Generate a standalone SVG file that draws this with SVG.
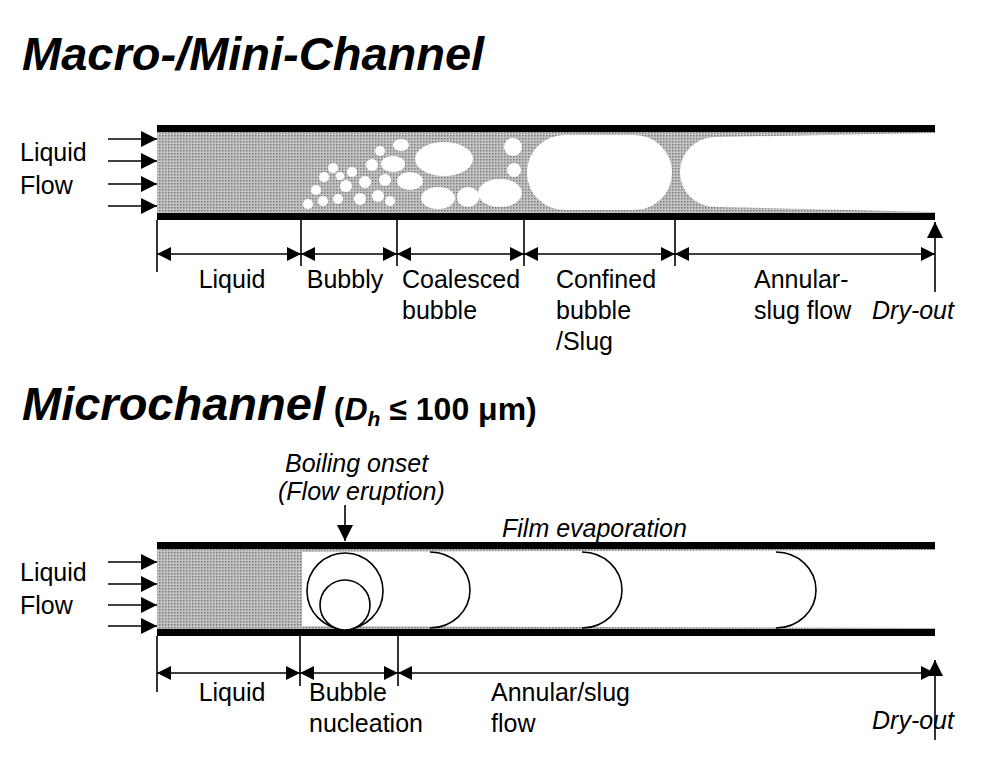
<svg xmlns="http://www.w3.org/2000/svg" width="994" height="757" viewBox="0 0 994 757">
<defs>
<pattern id="dots" width="3" height="3" patternUnits="userSpaceOnUse"><rect width="3" height="3" fill="#c4c4c4"/><rect width="1.5" height="1.5" fill="#7a7a7a"/></pattern>
<marker id="ah" viewBox="0 0 10 10" refX="10" refY="5" markerWidth="16" markerHeight="14" markerUnits="userSpaceOnUse" orient="auto-start-reverse"><path d="M0,0 L10,5 L0,10 z" fill="#000"/></marker>
<marker id="big" viewBox="0 0 10 10" refX="10" refY="5" markerWidth="18" markerHeight="16" markerUnits="userSpaceOnUse" orient="auto"><path d="M0,0 L10,5 L0,10 z" fill="#000"/></marker>
</defs>
<style>
.t{font-family:"Liberation Sans",Arial,sans-serif;font-size:25px;fill:#000}
.i{font-style:italic}
.h{font-family:"Liberation Sans",Arial,sans-serif;font-weight:bold;font-style:italic;font-size:47px}
.wall{fill:#000}
.ln{stroke:#000;stroke-width:1.6;fill:none}
.b{fill:#fff}
.s{fill:#fff;stroke:#000;stroke-width:1.6}
</style>
<rect width="994" height="757" fill="#fff"/>
<text class="h" x="22" y="70">Macro-/Mini-Channel</text>
<text x="22" y="420"><tspan class="h">Microchannel</tspan><tspan font-family="Liberation Sans,Arial,sans-serif" font-weight="bold" font-size="32"> (<tspan font-style="italic">D</tspan><tspan font-style="italic" font-size="21" dy="6">h</tspan><tspan dy="-6"> ≤ 100 μm)</tspan></tspan></text>

<g id="channel1">
<rect x="157" y="131" width="778" height="83" fill="url(#dots)"/>
<g class="b">
<circle cx="308" cy="204" r="5"/><circle cx="316" cy="190" r="5"/><circle cx="324" cy="177" r="5"/><circle cx="333" cy="168" r="5"/>
<circle cx="323" cy="201" r="5"/><circle cx="338" cy="199" r="5"/><circle cx="346" cy="186" r="6"/><circle cx="340" cy="176" r="4"/>
<circle cx="352" cy="172" r="5"/><circle cx="360" cy="199" r="6"/><circle cx="365" cy="182" r="6"/><circle cx="372" cy="165" r="6"/>
<circle cx="378" cy="196" r="6"/><circle cx="385" cy="180" r="6"/><circle cx="390" cy="201" r="5"/><circle cx="380" cy="151" r="5"/>
<ellipse cx="393" cy="164" rx="12" ry="8"/><ellipse cx="410" cy="181" rx="13" ry="9"/><ellipse cx="401" cy="145" rx="8" ry="6"/>
<ellipse cx="444" cy="159" rx="29" ry="17"/><ellipse cx="438" cy="198" rx="17" ry="11"/><ellipse cx="468" cy="197" rx="11" ry="10"/>
<ellipse cx="500" cy="193" rx="22" ry="14"/><circle cx="513" cy="147" r="9"/><circle cx="514" cy="170" r="7"/>
<rect x="527" y="135" width="145" height="75" rx="38" ry="37"/>
<path d="M715,137 L935,133 L935,212 L715,207 A35,35 0 0 1 715,137 Z"/>
</g>
<rect class="wall" x="157" y="125" width="778" height="7"/>
<rect class="wall" x="157" y="213" width="778" height="7"/>
</g>

<g id="channel2">
<rect x="157" y="548" width="778" height="82" fill="#fff"/>
<rect x="157" y="548" width="145" height="82" fill="url(#dots)"/>
<path d="M302,548 L935,548 L935,550 L302,552 Z M302,630 L935,630 L935,628 L302,626 Z" fill="url(#dots)"/>
<rect class="wall" x="157" y="542" width="778" height="7"/>
<rect class="wall" x="157" y="629" width="778" height="7"/>
<path class="ln" d="M430,552 A40,38 0 0 1 430,628"/>
<path class="ln" d="M582,552 A40,38 0 0 1 582,628"/>
<path class="ln" d="M776,552 A40,38 0 0 1 776,628"/>
<circle class="s" cx="345" cy="591" r="38"/>
<circle class="s" cx="345" cy="605" r="25"/>
</g>

<g id="connectors">
<g class="ln" stroke-width="2.2">
<line x1="108" y1="139" x2="157" y2="139" marker-end="url(#big)"/>
<line x1="108" y1="161" x2="157" y2="161" marker-end="url(#big)"/>
<line x1="108" y1="184" x2="157" y2="184" marker-end="url(#big)"/>
<line x1="108" y1="206" x2="157" y2="206" marker-end="url(#big)"/>
<line x1="108" y1="562" x2="157" y2="562" marker-end="url(#big)"/>
<line x1="108" y1="584" x2="157" y2="584" marker-end="url(#big)"/>
<line x1="108" y1="605" x2="157" y2="605" marker-end="url(#big)"/>
<line x1="108" y1="626" x2="157" y2="626" marker-end="url(#big)"/>
</g>
<g class="ln">
<line x1="157" y1="220" x2="157" y2="272"/><line x1="301" y1="220" x2="301" y2="266"/><line x1="397" y1="220" x2="397" y2="266"/><line x1="524" y1="220" x2="524" y2="266"/><line x1="675" y1="220" x2="675" y2="266"/>
<line x1="157" y1="254" x2="301" y2="254" marker-start="url(#ah)" marker-end="url(#ah)"/>
<line x1="301" y1="254" x2="397" y2="254" marker-start="url(#ah)" marker-end="url(#ah)"/>
<line x1="397" y1="254" x2="524" y2="254" marker-start="url(#ah)" marker-end="url(#ah)"/>
<line x1="524" y1="254" x2="675" y2="254" marker-start="url(#ah)" marker-end="url(#ah)"/>
<line x1="675" y1="254" x2="935" y2="254" marker-start="url(#ah)" marker-end="url(#ah)"/>
<line x1="935" y1="292" x2="935" y2="222" marker-end="url(#big)"/>
<line x1="157" y1="636" x2="157" y2="692"/><line x1="300" y1="636" x2="300" y2="686"/><line x1="398" y1="636" x2="398" y2="686"/>
<line x1="157" y1="673" x2="300" y2="673" marker-start="url(#ah)" marker-end="url(#ah)"/>
<line x1="300" y1="673" x2="398" y2="673" marker-start="url(#ah)" marker-end="url(#ah)"/>
<line x1="398" y1="673" x2="935" y2="673" marker-start="url(#ah)" marker-end="url(#ah)"/>
<line x1="935" y1="740" x2="935" y2="660" marker-end="url(#big)"/>
<line x1="345" y1="505" x2="345" y2="541" marker-end="url(#big)"/>
</g>
</g>

<g id="labels">
<text class="t" x="20" y="161">Liquid</text><text class="t" x="20" y="194">Flow</text>
<text class="t" x="20" y="581">Liquid</text><text class="t" x="20" y="614">Flow</text>
<text class="t" x="232" y="288" text-anchor="middle">Liquid</text>
<text class="t" x="345" y="288" text-anchor="middle">Bubbly</text>
<text class="t" x="402" y="288">Coalesced</text><text class="t" x="402" y="319">bubble</text>
<text class="t" x="556" y="288">Confined</text><text class="t" x="556" y="319">bubble</text><text class="t" x="556" y="350">/Slug</text>
<text class="t" x="754" y="288">Annular-</text><text class="t" x="754" y="319">slug flow</text>
<text class="t i" x="872" y="319" font-size="27">Dry-out</text>
<text class="t i" x="285" y="472" font-size="23">Boiling onset</text><text class="t i" x="278" y="500" font-size="23">(Flow eruption)</text>
<text class="t i" x="502" y="537" font-size="23">Film evaporation</text>
<text class="t" x="232" y="701" text-anchor="middle">Liquid</text>
<text class="t" x="309" y="701">Bubble</text><text class="t" x="309" y="732">nucleation</text>
<text class="t" x="491" y="701">Annular/slug</text><text class="t" x="491" y="732">flow</text>
<text class="t i" x="872" y="729" font-size="27">Dry-out</text>
</g>
</svg>
